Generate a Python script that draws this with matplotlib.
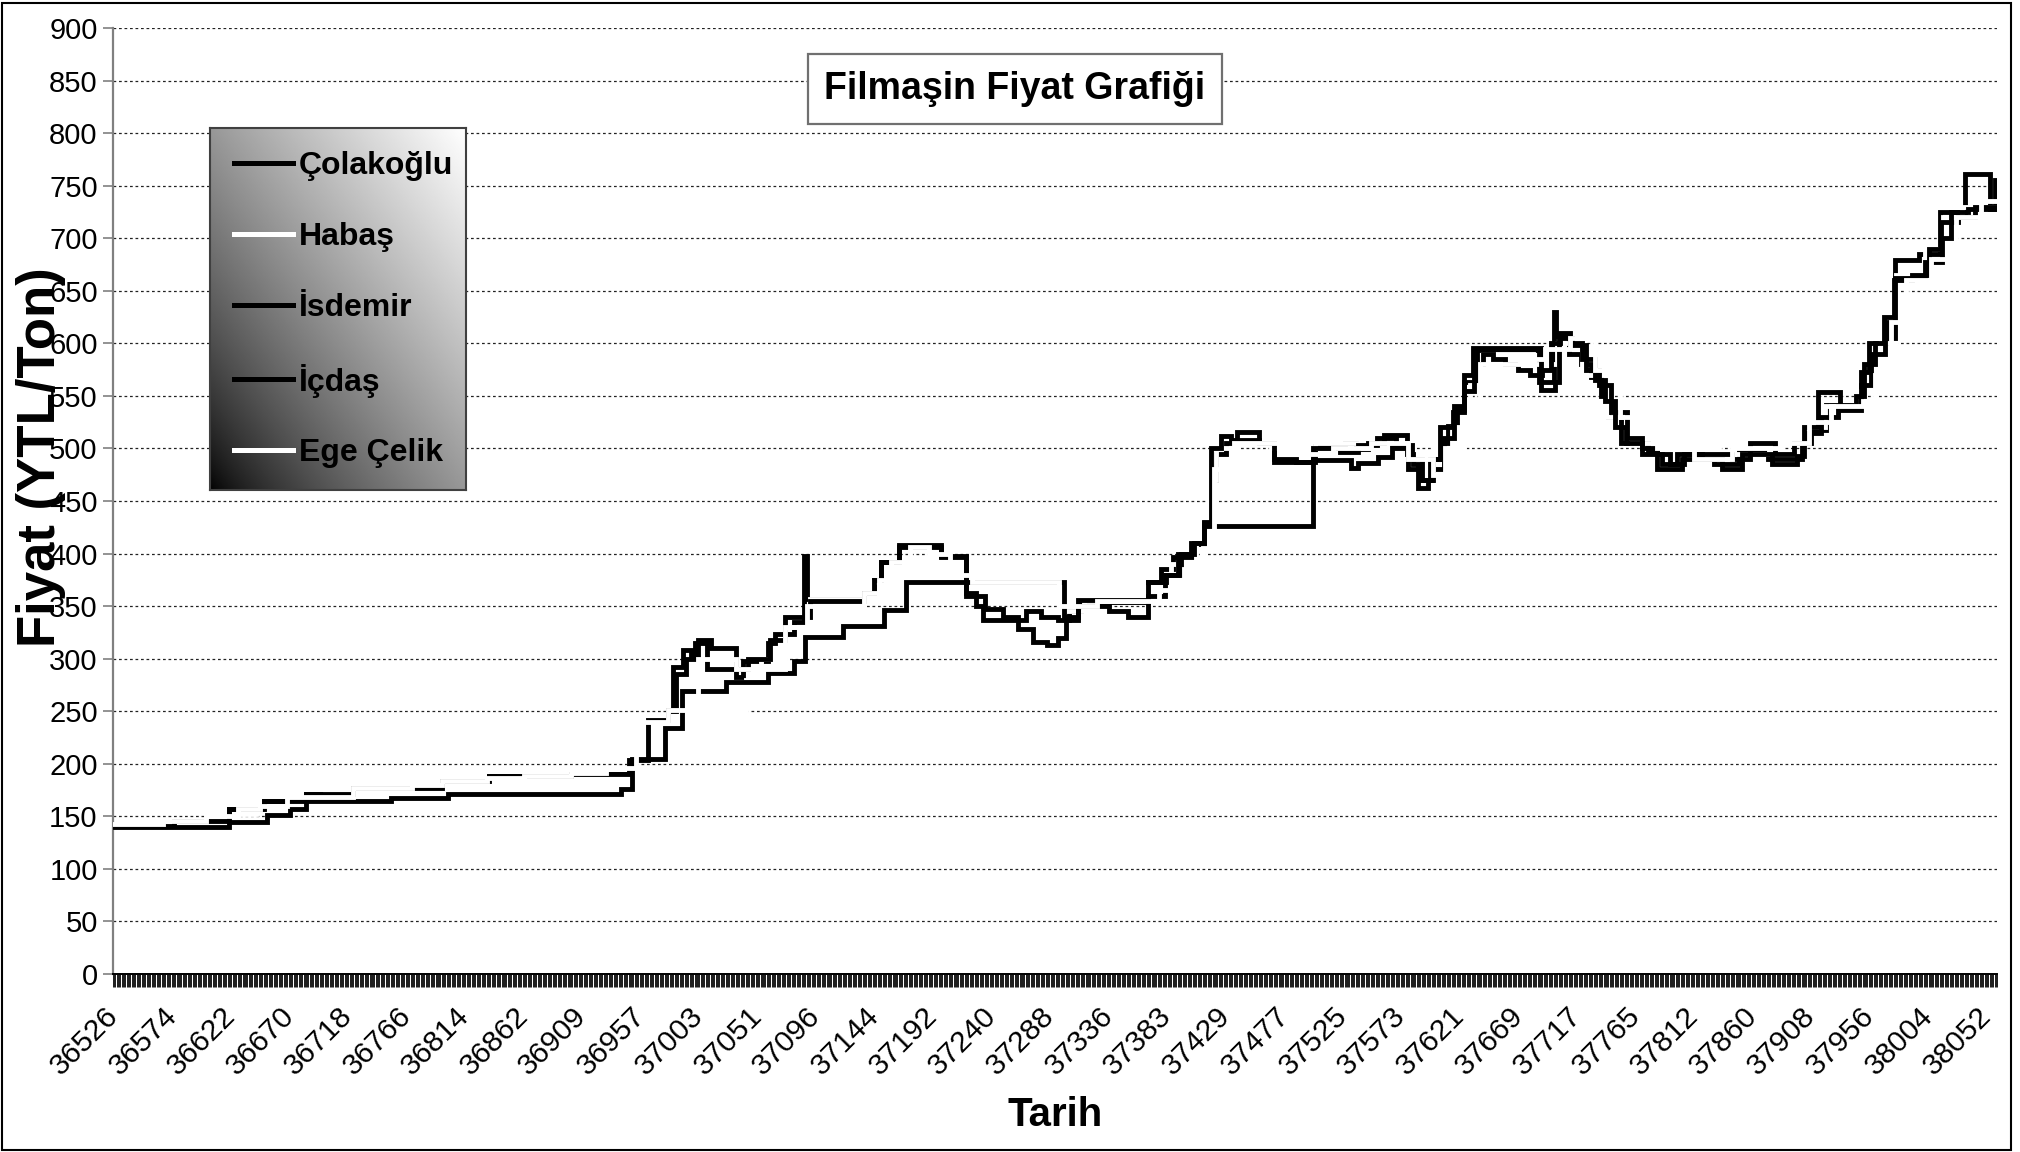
import numpy as np
import matplotlib
matplotlib.use("Agg")
import matplotlib.pyplot as plt
import matplotlib.font_manager as fm
import matplotlib.transforms as mtrans
from matplotlib.lines import Line2D
from matplotlib.patches import Rectangle

# ---------------- data (category index of each price change, price YTL/Ton) -------------
series_names = ["Çolakoğlu", "Habaş", "İsdemir", "İçdaş", "Ege Çelik"]
series_colors = ["black", "white", "black", "black", "white"]

tick_labels = ["36526", "36574", "36622", "36670", "36718", "36766", "36814", "36862",
               "36909", "36957", "37003", "37051", "37096", "37144", "37192", "37240",
               "37288", "37336", "37383", "37429", "37477", "37525", "37573", "37621",
               "37669", "37717", "37765", "37812", "37860", "37908", "37956", "38004",
               "38052"]
n_categories = 1514
label_step = 47
y_ticks = list(range(0, 901, 50))

idx_colakoglu = [0, 49, 93, 121, 155, 193, 264, 302, 368, 414, 430, 446, 450, 458, 464, 467, 477, 500,
                 506, 526, 532, 547, 555, 557, 603, 611, 617, 631, 665, 685, 693, 699, 733, 745, 759,
                 768, 777, 831, 842, 851, 868, 876, 882, 886, 894, 903, 920, 932, 965, 989, 998, 1008,
                 1021, 1039, 1044, 1048, 1056, 1060, 1067, 1072, 1079, 1085, 1095, 1145, 1157, 1159,
                 1169, 1179, 1187, 1195, 1201, 1211, 1233, 1240, 1260, 1286, 1306, 1329, 1356, 1364,
                 1376, 1404, 1410, 1425, 1431, 1450, 1467, 1487, 1507, 1511, 1513]
val_colakoglu = [141, 146, 157, 165, 171, 177, 184, 188, 190, 204, 242, 251, 292, 308, 303, 315, 290, 283,
                 298, 315, 323, 335, 398, 357, 362, 375, 392, 406, 397, 362, 350, 337, 345, 340, 337,
                 345, 354, 373, 385, 397, 409, 429, 470, 495, 505, 516, 505, 487, 502, 505, 499, 505,
                 513, 495, 485, 462, 470, 490, 505, 521, 537, 563, 594, 563, 630, 607,
                 590, 580, 568, 550, 530, 505, 497, 480, 490, 485, 497, 490, 505, 518,
                 541, 573, 600, 620, 679, 685, 725, 761, 728, 755, 755]

idx_habas = [0, 30, 60, 100, 115, 140, 170, 200, 240, 280, 330, 414, 430, 446, 456, 508, 520, 540, 560,
             600, 610, 640, 665, 700, 764, 780, 831, 850, 870, 880, 886, 903, 930, 965, 1000, 1030,
             1060, 1075, 1090, 1100, 1140, 1160, 1180, 1200, 1220, 1250, 1290, 1330, 1360, 1375, 1400,
             1420, 1432, 1455, 1470, 1485, 1513]
val_habas = [140, 142, 146, 152, 157, 165, 171, 172, 177, 184, 188, 204, 242, 250, 250, 280, 300, 330, 357,
             357, 373, 380, 373, 373, 345, 355, 368, 390, 410, 470, 500, 505, 500, 505, 500, 505,
             500, 520, 560, 590, 580, 600, 570, 530, 505, 500, 495, 505, 520, 540, 555,
             600, 665, 690, 720, 730, 730]

idx_isdemir = [0, 93, 124, 142, 155, 223, 269, 408, 417, 443, 457, 492, 526, 547, 556, 586, 619, 637, 764,
               775, 831, 846, 858, 866, 876, 964, 994, 1000, 1016, 1027, 1043, 1051, 1059, 1069, 1077,
               1085, 1092, 1147, 1158, 1161, 1172, 1183, 1193, 1203, 1216, 1228, 1244, 1256, 1276, 1292,
               1308, 1332, 1352, 1358, 1369, 1387, 1404, 1412, 1423, 1431, 1455, 1469, 1476, 1490, 1513]
val_isdemir = [140, 145, 151, 157, 165, 167, 171, 176, 205, 234, 269, 278, 286, 298, 321, 331, 346, 373, 340,
               356, 373, 380, 400, 410, 426, 489, 481, 486, 492, 503, 490, 470, 480, 510, 540,
               570, 596, 556, 563, 605, 598, 575, 560, 535, 510, 495, 485, 495, 490, 480,
               495, 485, 493, 520, 554, 537, 560, 590, 605, 662, 677, 700, 725, 728, 728]

idx_icdas = [0, 49, 93, 121, 155, 193, 264, 302, 368, 414, 430, 446, 452, 460, 470, 480,
             500, 510, 528, 540, 560, 603, 611, 617, 631, 665, 685, 700, 715, 727, 739, 750, 759, 765,
             775, 800, 815, 831, 845, 855, 868, 876, 882, 890, 898, 920, 932, 950, 964, 985, 1000, 1015,
             1030, 1040, 1050, 1058, 1066, 1076, 1085, 1093, 1100, 1108, 1118, 1128, 1138, 1148, 1155,
             1162, 1170, 1180, 1190, 1198, 1206, 1215, 1228, 1240, 1250, 1262, 1280, 1300, 1315, 1335,
             1350, 1360, 1372, 1385, 1400, 1406, 1415, 1422, 1430, 1445, 1458, 1468, 1482, 1495, 1513]
val_icdas = [141, 146, 157, 165, 171, 177, 184, 188, 190, 204, 242, 250, 285, 300, 318, 310,
             290, 300, 318, 340, 355, 362, 375, 392, 408, 398, 360, 347, 340, 328, 316, 313, 320, 337,
             350, 345, 340, 360, 380, 400, 410, 430, 500, 512, 508, 505, 490, 487, 500, 497, 503, 510,
             500, 480, 470, 490, 520, 535, 555, 580, 590, 585, 580, 575, 570, 575, 600,
             610, 600, 585, 565, 545, 520, 505, 500, 495, 485, 495, 495, 490, 505, 495,
             505, 515, 530, 540, 550, 580, 600, 625, 660, 665, 690, 715, 720, 730, 730]

idx_ege = [0, 40, 75, 100, 118, 140, 193, 240, 264, 300, 330, 368, 396, 420, 446, 470, 500, 540, 557, 603,
           615, 625, 640, 655, 672, 690, 760, 790, 840, 860, 875, 884, 900, 940, 980, 1010, 1040, 1060,
           1070, 1085, 1098, 1130, 1150, 1170, 1190, 1210, 1240, 1270, 1300, 1340, 1362, 1380, 1405,
           1415, 1428, 1440, 1460, 1480, 1500, 1513]
val_ege = [143, 146, 150, 157, 160, 168, 177, 180, 184, 186, 188, 191, 196, 240, 251, 300, 290, 330, 350, 362,
           375, 392, 406, 400, 380, 373, 350, 355, 365, 385, 405, 480, 505, 495, 500, 505, 490, 475,
           500, 530, 580, 585, 595, 605, 575, 530, 500, 490, 500, 505, 525, 540, 545,
           570, 620, 660, 680, 720, 735, 735]

series_idx = [idx_colakoglu, idx_habas, idx_isdemir, idx_icdas, idx_ege]
series_val = [val_colakoglu, val_habas, val_isdemir, val_icdas, val_ege]
for a, b in zip(series_idx, series_val):
    assert len(a) == len(b), (len(a), len(b))

# ---------------- fonts ----------------
names = {f.name for f in fm.fontManager.ttflist}
base = "Liberation Sans" if "Liberation Sans" in names else "DejaVu Sans"
narrow = "Liberation Sans Narrow" if "Liberation Sans Narrow" in names else base
plt.rcParams["font.family"] = [base, "DejaVu Sans"]

W, H = 2020, 1152
fig = plt.figure(figsize=(W / 100, H / 100), dpi=100)
fig.patch.set_facecolor("white")

L, R, T, B = 113, 1997, 28, 974
ax = fig.add_axes([L / W, 1 - B / H, (R - L) / W, (B - T) / H])

for name, col, xi, yv in zip(series_names, series_colors, series_idx, series_val):
    ax.plot(xi, yv, drawstyle="steps-post", color=col, lw=3.5, label=name,
            solid_joinstyle="miter", zorder=3)

ax.set_xlim(0, n_categories - 1)
ax.set_ylim(0, 900)
ax.set_yticks(y_ticks)
ax.set_yticklabels([str(v) for v in y_ticks], fontsize=21, family=[narrow, base])
ax.yaxis.grid(True, linestyle=(0, (2.2, 2.2)), color="#222222", lw=0.9)
ax.set_axisbelow(True)

for s in ["top", "right"]:
    ax.spines[s].set_visible(False)
ax.spines["left"].set_color("#808080")
ax.spines["left"].set_linewidth(1.6)
ax.spines["bottom"].set_color("black")
ax.spines["bottom"].set_linewidth(1.4)
ax.spines["bottom"].set_zorder(4)
ax.tick_params(axis="y", length=7, color="#808080", width=1.2, pad=4)

major_pos = [i * label_step for i in range(len(tick_labels))]
ax.set_xticks(major_pos)
ax.set_xticklabels(tick_labels, fontsize=21.5, rotation=45, ha="right", va="top",
                   rotation_mode="anchor")
ax.set_xticks(np.arange(n_categories), minor=True)
ax.tick_params(axis="x", which="both", length=9, width=0.7, color="#1a1a1a", pad=11)
shift = mtrans.ScaledTranslation(-9 / 100, 0, fig.dpi_scale_trans)
for lab in ax.get_xticklabels():
    lab.set_transform(lab.get_transform() + shift)

# axis titles
fig.text(41 / W, 1 - 457 / H, "Fiyat (YTL/Ton)", rotation=90, fontsize=38,
         fontweight="bold", ha="center", va="center")
fig.text(1055 / W, 1 - 1115 / H, "Tarih", fontsize=29, fontweight="bold",
         ha="center", va="center", family=[narrow, base])

# chart title in box
fig.text((814 + 1216) / 2 / W, 1 - 89 / H, "Filmaşin Fiyat Grafiği", fontsize=27,
         fontweight="bold", ha="center", va="center", zorder=10,
         bbox=dict(boxstyle="square,pad=0.45", fc="white", ec="#707070", lw=1.6))

# legend with diagonal gradient background
gx0, gy0, gx1, gy1 = 210, 128, 466, 490
gax = fig.add_axes([gx0 / W, 1 - gy1 / H, (gx1 - gx0) / W, (gy1 - gy0) / H])
gax.set_zorder(ax.get_zorder() + 2)
xs = np.linspace(0, 1, 300)
ys = np.linspace(0, 1, 300)
XX, YY = np.meshgrid(xs, ys)
G = np.clip((XX + YY) / 2, 0, 1) ** 0.75
gax.imshow(G, origin="lower", cmap="gray", extent=[0, 1, 0, 1], aspect="auto", vmin=0, vmax=1)
gax.set_xticks([])
gax.set_yticks([])
for s in gax.spines.values():
    s.set_color("#404040")
    s.set_linewidth(1.5)
handles = [Line2D([0], [0], color=c, lw=3.6) for c in series_colors]
gax.legend(handles, series_names, loc="upper left", bbox_to_anchor=(0.045, 0.972),
           frameon=False, prop=dict(family=base, weight="bold", size=23),
           handlelength=1.85, handletextpad=0.18, labelspacing=1.28, borderaxespad=0)

# outer chart border
fig.patches.append(Rectangle((2 / W, 2 / H), 2009 / W, 1147 / H, transform=fig.transFigure,
                             fill=False, ec="black", lw=1.5))

fig.savefig("out.png", dpi=100)
